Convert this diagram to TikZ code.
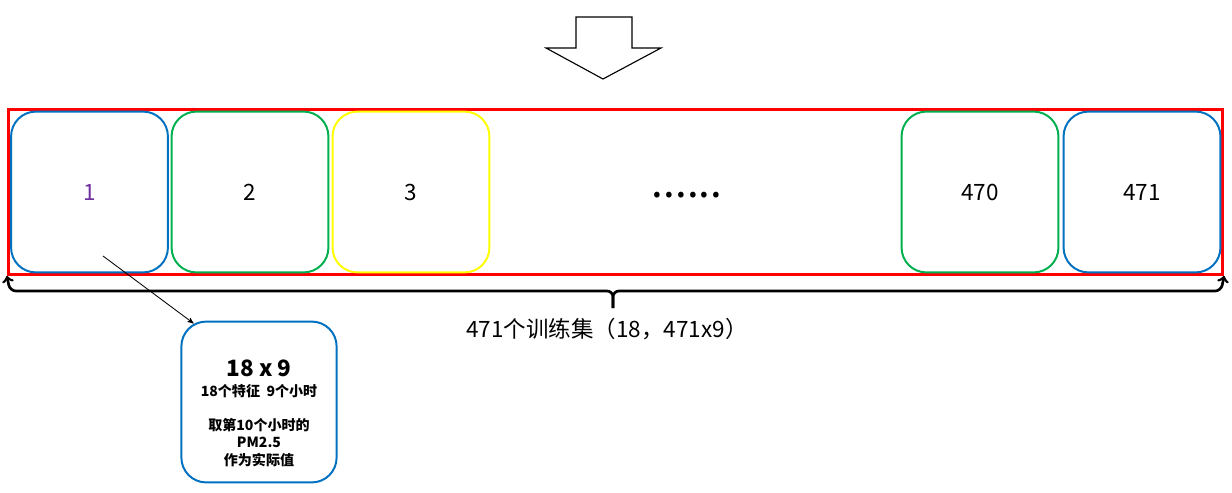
\documentclass[tikz,border=0pt]{standalone}
\usepackage{fontspec}
\setmainfont{Noto Sans CJK SC}
\usetikzlibrary{arrows,positioning}
\definecolor{cellblue}{RGB}{0,112,192}
\definecolor{cellgreen}{RGB}{0,176,80}
\definecolor{cellyellow}{RGB}{255,255,0}
\definecolor{numpurple}{RGB}{112,48,160}
\tikzset{
    %Define standard arrow tip
    >=stealth',
    %Define style for the sample cells
    cell/.style={
           rectangle,
           rounded corners=0.62cm,
           draw=#1, line width=1.4pt,
           minimum width=3.92cm,
           minimum height=4.02cm,
           inner sep=0pt,
           font=\fontsize{16}{19}\selectfont},
    %Define style for the outer set
    set/.style={
           rectangle,
           draw=red, line width=2.1pt,
           minimum width=30.35cm,
           minimum height=4.12cm,
           inner sep=0pt},
    % Define brace style
    brace/.style={
           -to,
           line width=1.9pt,
           rounded corners=0.15cm},
    % Define arrow style
    pil/.style={
           ->,
           line width=0.6pt}
}
\begin{document}
\begin{tikzpicture}[x=0.025cm, y=-0.025cm]
\useasboundingbox (0,0) rectangle (1232,493);
%down arrow on top
\draw[line width=0.8pt] (576,17) -- (632,17) -- (632,48) -- (661,48) -- (603,79)
  -- (546,48) -- (576,48) -- cycle;
%the whole training set
\node[set] (set) at (615.5,192) {};
\node[cell=cellblue] (b1) at (89.5,192) {\color{numpurple}1};
\node[cell=cellgreen] (b2) at (250,192) {2};
\node[cell=cellyellow] (b3) at (411,192) {3};
\node (dots) at (687,195) {\fontsize{30}{32}\selectfont ......};
\node[cell=cellgreen] (b470) at (980,192) {470};
\node[cell=cellblue] (b471) at (1142,192) {471};
%brace under the set
\coordinate (mid) at (613,308);
\draw[brace] (mid) -- (613,291) -- (10,291) -- (set.south west);
\draw[brace] (mid) -- (613,291) -- (1221,291) -- (set.south east);
\node (setlabel) at (607,329) {\fontsize{16}{19}\selectfont 471个训练集（18，471x9）};
%one sample
\node[cell=cellblue, minimum width=3.88cm, minimum height=4.02cm,
  align=center, text height=3.15cm, text depth=0pt,
  font=\fontsize{10}{12.2}\selectfont\bfseries] (info) at (259,402)
  {{\fontsize{16}{19}\selectfont 18 x 9}\\[2pt]
   18个特征\ \ 9个小时\\[12.2pt]
   取第10个小时的\\
   PM2.5\\
   作为实际值};
\coordinate (src) at (103,256);
\draw[pil] (src) -- ([xshift=0.33cm,yshift=-0.07cm]info.north west);
\end{tikzpicture}
\end{document}
